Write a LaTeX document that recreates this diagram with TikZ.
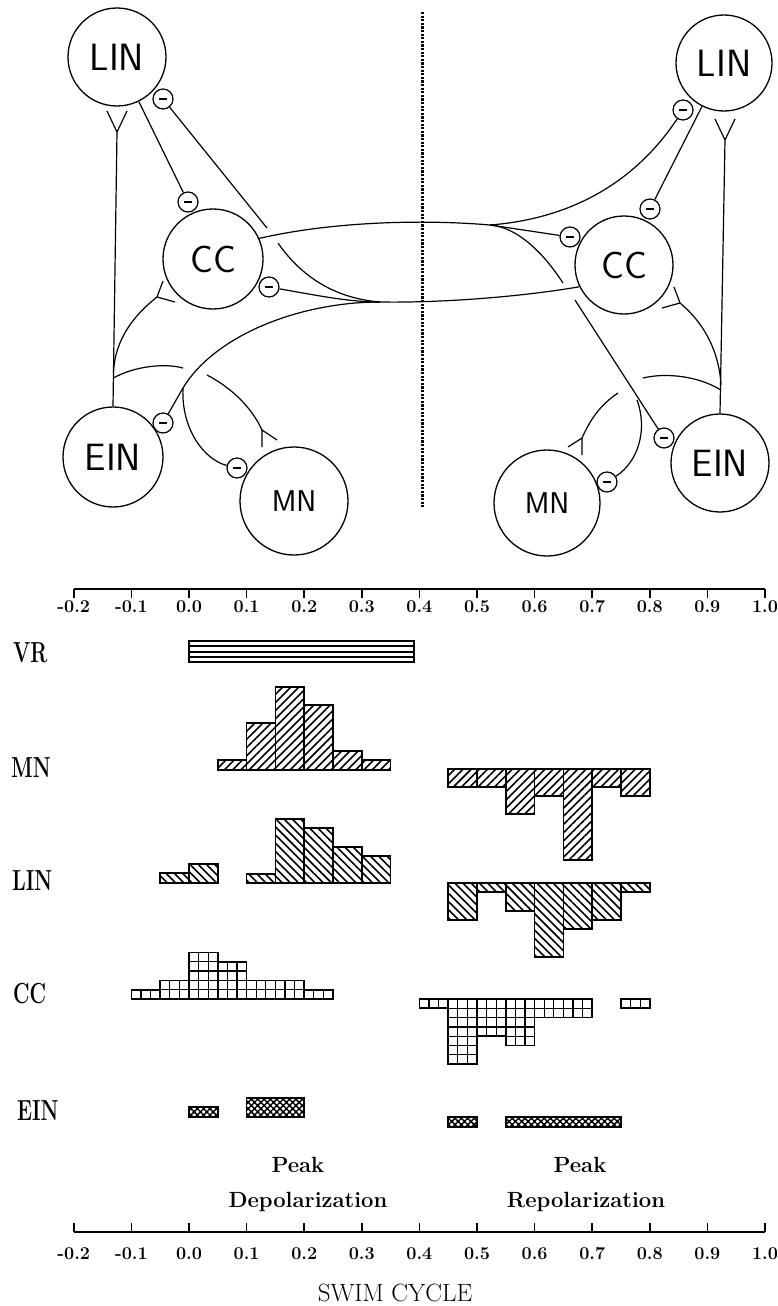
\documentclass[tikz,border=0pt]{standalone}
\usepackage{fontspec}
\usetikzlibrary{patterns.meta}
\newcommand\cellfont{\sffamily\fontsize{38}{38}\selectfont}
\newcommand\mnfont{\sffamily\fontsize{30}{30}\selectfont}
\newcommand\rowfont{\bfseries\fontsize{29}{29}\selectfont}
\newcommand\tickfont{\bfseries\fontsize{18}{18}\selectfont}
\newcommand\peakfont{\bfseries\fontsize{22}{22}\selectfont}
\newcommand\swimfont{\fontsize{25}{25}\selectfont}
% CC histogram bar: #1 bin start, #2 rows, #3 direction (1 up, -1 down)
\newcommand\ccbar[3]{%
  \draw[ccout] ({#1},999) rectangle ({#1+0.05},{999-(#3)*9.3*#2});
  \foreach \k in {1,2}{\draw[gridl] ({#1+\k*0.0166667},999) -- ({#1+\k*0.0166667},{999-(#3)*9.3*#2});}
  \foreach \r in {1,...,#2}{\draw[gridl] ({#1},{999-(#3)*9.3*\r}) -- ({#1+0.05},{999-(#3)*9.3*\r});}
}
\begin{document}
\begin{tikzpicture}[x=1pt,y=-1pt,
  cell/.style={circle,draw,line width=1.3pt,inner sep=0pt,font=\cellfont},
  inh/.style={circle,draw,line width=1.2pt,minimum size=20pt,inner sep=0pt,fill=white,
    path picture={\draw[line width=1.8pt] ([xshift=-4pt]path picture bounding box.center) -- ([xshift=4pt]path picture bounding box.center);}},
  ax/.style={line width=1.2pt},
  midline/.style={line width=3pt,dash pattern=on 2.2pt off 1.4pt},
  bar/.style={draw,line width=1.7pt},
  mnbar/.style={bar,pattern={Lines[angle=45,distance=5.8pt,line width=1.6pt]}},
  linbar/.style={bar,pattern={Lines[angle=-45,distance=5.8pt,line width=1.6pt]}},
  einbar/.style={bar,pattern={Hatch[angle=45,distance=4.5pt,line width=1.5pt]}},
  ccout/.style={line width=1.7pt},
  gridl/.style={line width=1.3pt},
  tick/.style={line width=1.5pt},
  ticklab/.style={font=\tickfont,anchor=base,inner sep=0pt},
  rowlab/.style={font=\rowfont,anchor=base west,inner sep=0pt},
  peak/.style={font=\peakfont,anchor=base,inner sep=0pt}
]
\useasboundingbox (0,0) rectangle (778,1306);

% ---------------- cells ----------------
\node[cell,minimum size=98pt] (LINL) at (117,57) {LIN};
\node[cell,minimum size=96pt] (LINR) at (724,63) {LIN};
\node[cell,minimum size=100pt] (CCL) at (213,259) {CC};
\node[cell,minimum size=98pt] (CCR) at (624,265) {CC};
\node[cell,minimum size=100pt] (EINL) at (113,457) {EIN};
\node[cell,minimum size=98pt] (EINR) at (720,463) {EIN};
\node[cell,minimum size=108pt,font=\mnfont] (MNL) at (294,501) {MN};
\node[cell,minimum size=106pt,font=\mnfont] (MNR) at (547,503) {MN};

% inhibitory synapses
\node[inh] (sL1) at (163,99) {};
\node[inh] (sL2) at (188,202) {};
\node[inh] (sL3) at (269,287) {};
\node[inh] (sL4) at (163,423) {};
\node[inh] (sL5) at (237,468) {};
\node[inh] (sR1) at (683,110) {};
\node[inh] (sR2) at (650,209) {};
\node[inh] (sR3) at (570,237) {};
\node[inh] (sR4) at (664,438) {};
\node[inh] (sR5) at (607,482) {};

% midline
\coordinate (midT) at (422,12);
\coordinate (midB) at (422,508);
\draw[midline] (midT) -- (midB);

% ---------------- left side ----------------
\coordinate (yLINL) at (117,132);
\draw[ax] (EINL.north) -- (yLINL);
\draw[ax] (yLINL) -- ++(-10,-21) (yLINL) -- ++(10,-21);
\draw[ax] (LINL) -- (sL2);
% EIN -> CC (excitatory)
\coordinate (bL1) at (113.5,372);
\coordinate (yCCL) at (157,297);
\draw[ax] (bL1) .. controls (115,340) and (133,316) .. (yCCL);
\draw[ax] (yCCL) -- ++(6,-16) (yCCL) -- ++(18,5);
% EIN -> MN (excitatory, broken at crossing)
\coordinate (bL2) at (113.4,378);
\coordinate (gL1a) at (183,368);
\coordinate (gL1b) at (207,375);
\coordinate (yMNL) at (262,430);
\draw[ax] (bL2) .. controls (135,366) and (165,363) .. (gL1a);
\draw[ax] (gL1b) .. controls (232,388) and (252,408) .. (yMNL);
\draw[ax] (yMNL) -- ++(0,17) (yMNL) -- ++(15,10);
% crossed axon of right CC
\coordinate (tR) at (380,302);
\coordinate (bE) at (183,388);
\draw[ax] (CCR.206) .. controls (520,297) and (440,303) .. (tR)
   .. controls (300,302) and (215,335) .. (bE);
\draw[ax] (bE) -- (sL4);
\draw[ax] (bE) .. controls (181,430) and (205,460) .. (sL5);
\draw[ax] (sL3) .. controls (320,296) and (350,302) .. (tR);
\coordinate (gL2a) at (278,243);
\coordinate (gL2b) at (267,228);
\draw[ax] (tR) .. controls (330,298) and (298,272) .. (gL2a);
\draw[ax] (gL2b) -- (sL1);

% ---------------- right side ----------------
\coordinate (yLINR) at (725,140);
\draw[ax] (EINR.north) -- (yLINR);
\draw[ax] (yLINR) -- ++(-10,-21) (yLINR) -- ++(10,-21);
\draw[ax] (LINR) -- (sR2);
% EIN -> CC
\coordinate (bR1) at (721,385);
\coordinate (yCCR) at (680,303);
\draw[ax] (bR1) .. controls (719,350) and (703,322) .. (yCCR);
\draw[ax] (yCCR) -- ++(-6,-16) (yCCR) -- ++(-18,5);
% EIN -> MN
\coordinate (bR2) at (720.8,390);
\coordinate (gR1a) at (643,378);
\coordinate (gR1b) at (618,393);
\coordinate (yMNR) at (582,438);
\draw[ax] (bR2) .. controls (700,377) and (668,372) .. (gR1a);
\draw[ax] (gR1b) .. controls (600,405) and (590,420) .. (yMNR);
\draw[ax] (yMNR) -- ++(0,17) (yMNR) -- ++(-14,9);
% crossed axon of left CC
\coordinate (tL) at (490,225);
\draw[ax] (CCL.24) .. controls (330,222) and (420,219) .. (tL);
\draw[ax] (tL) .. controls (580,218) and (640,175) .. (sR1);
\draw[ax] (tL) -- (sR3);
\coordinate (gR2a) at (563,283);
\coordinate (gR2b) at (575,300);
\coordinate (bR3) at (637,400);
\draw[ax] (tL) .. controls (522,228) and (548,260) .. (gR2a);
\draw[ax] (gR2b) -- (sR4);
\draw[ax] (bR3) .. controls (648,430) and (638,462) .. (sR5);

% ---------------- histograms ----------------
\node[rowlab] (rVR) at (13,662) {\scalebox{0.7}[1]{VR}};
\node[rowlab] (rMN) at (11,777) {\scalebox{0.7}[1]{MN}};
\node[rowlab] (rLIN) at (12,890) {\scalebox{0.7}[1]{LIN}};
\node[rowlab] (rCC) at (13,1003) {\scalebox{0.7}[1]{CC}};
\node[rowlab] (rEIN) at (17,1120) {\scalebox{0.7}[1]{EIN}};

\begin{scope}[x=576pt,xshift=189pt]
  % axes
  \draw[tick] (-0.2,589) -- (1.0,589);
  \draw[tick] (-0.2,1232) -- (1.0,1232);
  \foreach \i/\l in {-2/-0.2,-1/-0.1,0/0.0,1/0.1,2/0.2,3/0.3,4/0.4,5/0.5,6/0.6,7/0.7,8/0.8,9/0.9,10/1.0}{
    \draw[tick] (\i/10,589) -- (\i/10,598);
    \node[ticklab] (tt\i) at (\i/10,612) {\l};
    \draw[tick] (\i/10,1223) -- (\i/10,1232);
    \node[ticklab] (tb\i) at (\i/10,1259) {\l};
  }
  % VR
  \draw[bar,line width=1.9pt] (0,641) rectangle (0.39,662);
  \foreach \yy in {646.3,651.5,656.8}{\draw[line width=2pt] (0,\yy) -- (0.39,\yy);}
  % MN
  \foreach \a/\t in {0.05/760,0.10/723,0.15/687,0.20/705,0.25/751,0.30/760}
    {\draw[mnbar] (\a,770) rectangle (\a+0.05,\t);}
  \foreach \a/\b in {0.45/787,0.50/787,0.55/814,0.60/796,0.65/860,0.70/787,0.75/796}
    {\draw[mnbar] (\a,769) rectangle (\a+0.05,\b);}
  % LIN
  \foreach \a/\t in {-0.05/873,0.00/864,0.10/874,0.15/819,0.20/828,0.25/847,0.30/856}
    {\draw[linbar] (\a,883) rectangle (\a+0.05,\t);}
  \foreach \a/\b in {0.45/920,0.50/892,0.55/911,0.60/957,0.65/929,0.70/920,0.75/892}
    {\draw[linbar] (\a,883) rectangle (\a+0.05,\b);}
  % CC
  \ccbar{-0.10}{1}{1}\ccbar{-0.05}{2}{1}\ccbar{0.00}{5}{1}\ccbar{0.05}{4}{1}
  \ccbar{0.10}{2}{1}\ccbar{0.15}{2}{1}\ccbar{0.20}{1}{1}
  \ccbar{0.40}{1}{-1}\ccbar{0.45}{7}{-1}\ccbar{0.50}{4}{-1}\ccbar{0.55}{5}{-1}
  \ccbar{0.60}{2}{-1}\ccbar{0.65}{2}{-1}\ccbar{0.75}{1}{-1}
  % EIN
  \draw[einbar] (0,1117) rectangle (0.05,1107);
  \draw[einbar] (0.10,1117) rectangle (0.20,1098);
  \draw[einbar] (0.45,1117) rectangle (0.50,1127);
  \draw[einbar] (0.55,1117) rectangle (0.75,1127);
\end{scope}

\node[peak] (pk1) at (298,1172) {Peak};
\node[peak] (pd1) at (308,1207) {Depolarization};
\node[peak] (pk2) at (580,1172) {Peak};
\node[peak] (pd2) at (586,1207) {Repolarization};
\node[font=\swimfont,anchor=base,inner sep=0pt] (swim) at (395,1301) {SWIM CYCLE};
\end{tikzpicture}
\end{document}
